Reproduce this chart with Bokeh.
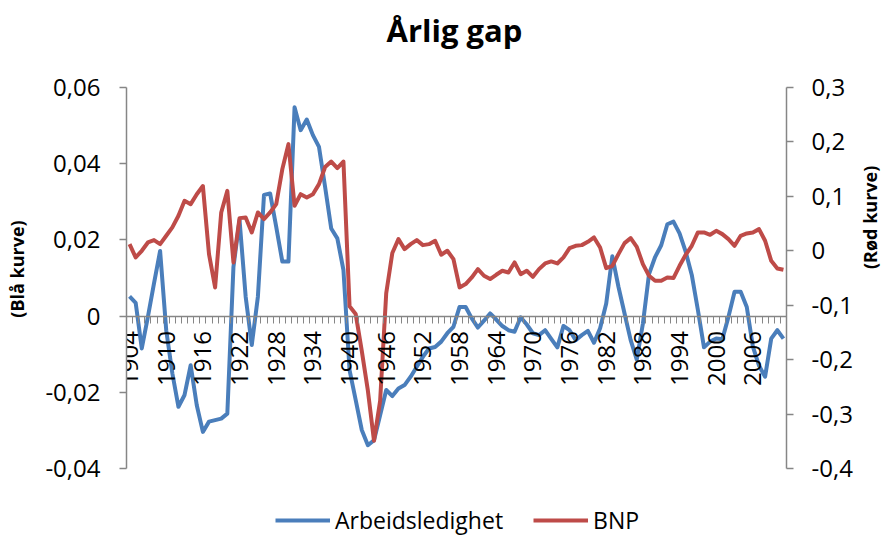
import math
from bokeh.plotting import figure
from bokeh.models import (Range1d, LinearAxis, FixedTicker, CustomJSTickFormatter,
                          Legend, LegendItem, Label)
from bokeh.embed import file_html
from bokeh.resources import INLINE

# ---------------- data ----------------
years = list(range(1904, 2012))

arbeidsledighet = [
    0.0052, 0.0035, -0.0085, -0.0002, 0.0086, 0.0171, -0.0037, -0.0150, -0.0238, -0.0207,   # 1904-1913
    -0.0129, -0.0234, -0.0304, -0.0277, -0.0273, -0.0269, -0.0256, 0.0129, 0.0252, 0.0051,   # 1914-1923
    -0.0076, 0.0051, 0.0318, 0.0322, 0.0234, 0.0143, 0.0143, 0.0548, 0.0488, 0.0516,         # 1924-1933
    0.0475, 0.0444, 0.0339, 0.0230, 0.0204, 0.0121, -0.0142, -0.0220, -0.0299, -0.0339,      # 1934-1943
    -0.0326, -0.0260, -0.0194, -0.0210, -0.0190, -0.0181, -0.0159, -0.0133, -0.0107, -0.0085,  # 1944-1953
    -0.0081, -0.0067, -0.0045, -0.0028, 0.0024, 0.0024, -0.0006, -0.0030, -0.0012, 0.0007,   # 1954-1963
    -0.0009, -0.0026, -0.0037, -0.0041, -0.0003, -0.0022, -0.0045, -0.0050, -0.0037, -0.0060,  # 1964-1973
    -0.0082, -0.0026, -0.0037, -0.0063, -0.0050, -0.0039, -0.0070, -0.0032, 0.0033, 0.0157,  # 1974-1983
    0.0077, 0.0007, -0.0063, -0.0114, -0.0020, 0.0110, 0.0155, 0.0186, 0.0241, 0.0248,       # 1984-1993
    0.0217, 0.0169, 0.0108, 0.0016, -0.0082, -0.0067, -0.0059, -0.0061, -0.0002, 0.0064,     # 1994-2003
    0.0064, 0.0024, -0.0080, -0.0130, -0.0159, -0.0059, -0.0037, -0.0059,                    # 2004-2011
]

bnp = [
    0.0122, -0.0122, 0.0000, 0.0153, 0.0196, 0.0122, 0.0276, 0.0429, 0.0643, 0.0918,         # 1904-1913
    0.0857, 0.1040, 0.1190, -0.0061, -0.0673, 0.0704, 0.1100, -0.0214, 0.0600, 0.0612,       # 1914-1923
    0.0337, 0.0704, 0.0582, 0.0704, 0.0857, 0.1500, 0.1960, 0.0827, 0.1040, 0.0980,          # 1924-1933
    0.1040, 0.1225, 0.1540, 0.1640, 0.1520, 0.1640, -0.1020, -0.1160, -0.1840, -0.2570,      # 1934-1943
    -0.3490, -0.2760, -0.0780, -0.0040, 0.0214, 0.0031, 0.0122, 0.0196, 0.0104, 0.0122,      # 1944-1953
    0.0184, -0.0073, 0.0000, -0.0153, -0.0673, -0.0612, -0.0490, -0.0337, -0.0459, -0.0520,  # 1954-1963
    -0.0441, -0.0367, -0.0398, -0.0214, -0.0429, -0.0367, -0.0478, -0.0337, -0.0233, -0.0196,  # 1964-1973
    -0.0233, -0.0122, 0.0049, 0.0092, 0.0104, 0.0165, 0.0245, 0.0061, -0.0318, -0.0276,      # 1974-1983
    -0.0061, 0.0141, 0.0233, 0.0073, -0.0245, -0.0459, -0.0551, -0.0551, -0.0490, -0.0502,   # 1984-1993
    -0.0276, -0.0073, 0.0092, 0.0337, 0.0337, 0.0294, 0.0367, 0.0306, 0.0214, 0.0092,        # 1994-2003
    0.0276, 0.0319, 0.0337, 0.0398, 0.0184, -0.0184, -0.0325, -0.0349,                       # 2004-2011
]

left_ticks = [-0.04, -0.02, 0.0, 0.02, 0.04, 0.06]
left_labels = ["-0,04", "-0,02", "0", "0,02", "0,04", "0,06"]
right_ticks = [-0.4, -0.3, -0.2, -0.1, 0.0, 0.1, 0.2, 0.3]
right_labels = ["-0,4", "-0,3", "-0,2", "-0,1", "0", "0,1", "0,2", "0,3"]
year_ticks = list(range(1904, 2012, 6))
year_labels = [str(y) for y in year_ticks]

title_text = "Årlig gap"
left_title = "(Blå kurve)"
right_title = "(Rød kurve)"
series_names = ["Arbeidsledighet", "BNP"]

# ---------------- layout / style ----------------
FONT = "Open Sans"
BLUE = "#4A7EBB"
RED = "#BE4B48"
AXIS = "#868686"

W, H = 896, 537
LEFT, RIGHT = 126, 104
AXIS_TOP, AXIS_BOTTOM = 87, 468          # page pixels where the value axes start/end
AXIS_H = AXIS_BOTTOM - AXIS_TOP
EXTRA_TOP = AXIS_TOP / AXIS_H            # frame spans the whole height; the axes use bounds
EXTRA_BOTTOM = (H - AXIS_BOTTOM) / AXIS_H

lmin, lmax = left_ticks[0], left_ticks[-1]
rmin, rmax = right_ticks[0], right_ticks[-1]

JS = "const i = tv.findIndex(t => Math.abs(t - tick) < 1e-9); return i >= 0 ? tl[i] : '';"


def fmt(tick_values, tick_labels):
    return CustomJSTickFormatter(args=dict(tv=tick_values, tl=tick_labels), code=JS)


def padded(lo, hi):
    span = hi - lo
    return Range1d(lo - span * EXTRA_BOTTOM, hi + span * EXTRA_TOP)


p = figure(width=W, height=H, output_backend="svg", toolbar_location=None,
           x_range=Range1d(years[0] - 0.5, years[-1] + 0.5),
           y_range=padded(lmin, lmax),
           min_border_left=LEFT, min_border_right=RIGHT, min_border_top=0,
           min_border_bottom=0)
p.outline_line_color = None
p.xgrid.visible = False
p.ygrid.visible = False
p.background_fill_color = "white"
p.border_fill_color = "white"

# x axis crossing at 0 of the left axis
xa = p.xaxis[0]
xa.fixed_location = 0
xa.ticker = FixedTicker(ticks=year_ticks,
                        minor_ticks=[y - 0.5 for y in years] + [years[-1] + 0.5])
xa.formatter = fmt(year_ticks, year_labels)
xa.major_label_orientation = math.pi / 2
xa.major_label_text_font = FONT
xa.major_label_text_font_size = "24px"
xa.major_label_text_color = "black"
xa.major_label_standoff = 8
xa.major_tick_out = 0
xa.major_tick_in = 0
xa.minor_tick_out = 7
xa.minor_tick_in = 0
xa.minor_tick_line_color = AXIS
xa.axis_line_color = AXIS
xa.axis_line_width = 1.5


def style_y(ax, title):
    ax.axis_label = title
    ax.axis_label_text_font = FONT
    ax.axis_label_text_font_size = "18px"
    ax.axis_label_text_font_style = "bold"
    ax.axis_label_text_color = "black"
    ax.major_label_text_font = FONT
    ax.major_label_text_font_size = "24px"
    ax.major_label_text_color = "black"
    ax.major_tick_out = 7
    ax.major_tick_in = 0
    ax.minor_tick_out = 0
    ax.minor_tick_in = 0
    ax.major_tick_line_color = AXIS
    ax.axis_line_color = AXIS
    ax.axis_line_width = 1.5
    ax.major_tick_line_width = 1.5


ya = p.yaxis[0]
ya.ticker = FixedTicker(ticks=left_ticks)
ya.formatter = fmt(left_ticks, left_labels)
ya.bounds = (lmin, lmax)
style_y(ya, left_title)
ya.major_label_standoff = 19
ya.axis_label_standoff = 13

p.extra_y_ranges = {"red": padded(rmin, rmax)}
ra = LinearAxis(y_range_name="red", ticker=FixedTicker(ticks=right_ticks),
                formatter=fmt(right_ticks, right_labels), bounds=(rmin, rmax))
style_y(ra, right_title)
ra.major_label_standoff = 18
ra.axis_label_standoff = 14
ra.axis_label_orientation = math.pi / 2
p.add_layout(ra, "right")

r_blue = p.line(years, arbeidsledighet, line_color=BLUE, line_width=4, line_join="round")
r_red = p.line(years, bnp, line_color=RED, line_width=4, line_join="round",
               y_range_name="red")

title = Label(x=454 - LEFT, y=H - 29, x_units="screen", y_units="screen",
              text=title_text, text_align="center", text_baseline="alphabetic",
              text_font=FONT, text_font_size="31px", text_font_style="bold",
              text_color="black")
p.add_layout(title)

legend = Legend(items=[LegendItem(label=series_names[0], renderers=[r_blue]),
                       LegendItem(label=series_names[1], renderers=[r_red])],
                location=(149, 1), orientation="horizontal",
                glyph_width=55, glyph_height=30, label_height=30,
                label_standoff=5, spacing=30, padding=0, margin=0,
                border_line_color=None, background_fill_alpha=0,
                label_text_font=FONT, label_text_font_size="23px",
                label_text_color="black")
p.add_layout(legend)

open("out.html", "w").write(file_html(p, INLINE))
